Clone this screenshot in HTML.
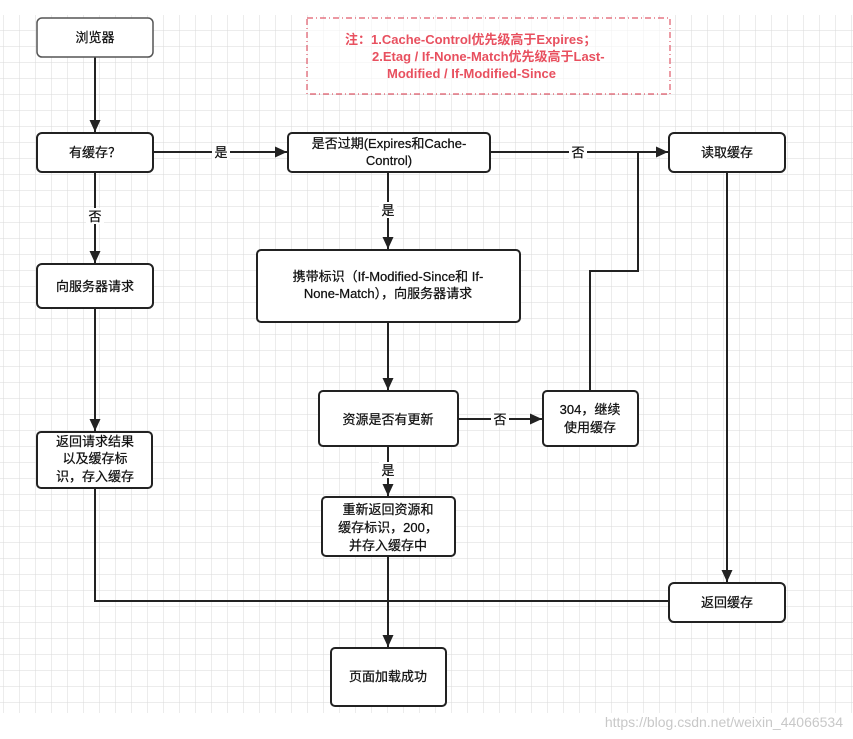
<!DOCTYPE html>
<html><head><meta charset="utf-8"><style>
html,body{margin:0;padding:0;background:#fff;}
svg{display:block;}
text{font-family:"Liberation Sans","Noto Sans CJK SC",sans-serif;font-size:13px;fill:#111;text-anchor:middle;stroke:#111;stroke-width:0.25;}
</style></head><body>
<svg width="853" height="739" viewBox="0 0 853 739" xmlns="http://www.w3.org/2000/svg">
<defs>
<pattern id="g" width="16" height="16" patternUnits="userSpaceOnUse" x="4" y="15">
<path d="M16 0V16M0 16H16" stroke="#dadada" stroke-width="1" fill="none"/>
</pattern>
<marker id="a" markerWidth="12" markerHeight="12" refX="12" refY="6" orient="auto" markerUnits="userSpaceOnUse">
<path d="M0 0.5L12 6L0 11.5Z" fill="#222"/>
</marker>
</defs>
<rect x="0" y="15" width="853" height="698" fill="url(#g)"/>
<g stroke="#222" stroke-width="2" fill="none">
<line x1="95" y1="57" x2="95" y2="132" marker-end="url(#a)"/>
<line x1="153" y1="152" x2="287" y2="152" marker-end="url(#a)"/>
<line x1="490" y1="152" x2="668" y2="152" marker-end="url(#a)"/>
<line x1="95" y1="172" x2="95" y2="263" marker-end="url(#a)"/>
<line x1="388" y1="172" x2="388" y2="249" marker-end="url(#a)"/>
<line x1="388" y1="322" x2="388" y2="390" marker-end="url(#a)"/>
<line x1="458" y1="419" x2="542" y2="419" marker-end="url(#a)"/>
<polyline points="590,391 590,271 638,271 638,152"/>
<line x1="388" y1="446" x2="388" y2="496" marker-end="url(#a)"/>
<line x1="388" y1="556" x2="388" y2="647" marker-end="url(#a)"/>
<line x1="95" y1="308" x2="95" y2="431" marker-end="url(#a)"/>
<polyline points="95,488 95,601 669,601"/>
<line x1="727" y1="172" x2="727" y2="582" marker-end="url(#a)"/>
</g>
<g fill="#fff" stroke="#222" stroke-width="2">
<rect x="37" y="18" width="116" height="39" rx="5" stroke="#555" stroke-width="1.5"/>
<rect x="37" y="133" width="116" height="39" rx="5"/>
<rect x="37" y="264" width="116" height="44" rx="5"/>
<rect x="37" y="432" width="115" height="56" rx="4"/>
<rect x="288" y="133" width="202" height="39" rx="4"/>
<rect x="257" y="250" width="263" height="72" rx="4"/>
<rect x="319" y="391" width="139" height="55" rx="4"/>
<rect x="543" y="391" width="95" height="55" rx="4"/>
<rect x="322" y="497" width="133" height="59" rx="4"/>
<rect x="669" y="133" width="116" height="39" rx="5"/>
<rect x="669" y="583" width="116" height="39" rx="5"/>
<rect x="331" y="648" width="115" height="58" rx="4"/>
</g>
<rect x="307" y="18" width="363" height="76" fill="#fff" fill-opacity="0.6" stroke="#e05a6a" stroke-width="1.2" stroke-dasharray="6,3,1,3"/>
<g fill="#fff"><rect x="212" y="144" width="18" height="16"/><rect x="569" y="144" width="18" height="16"/><rect x="379" y="202" width="18" height="16"/><rect x="491" y="411" width="18" height="16"/><rect x="379" y="462" width="18" height="16"/><rect x="86" y="208" width="18" height="16"/></g>
<text x="95" y="42">浏览器</text>
<text x="95" y="157">有缓存？</text>
<text x="95" y="291">向服务器请求</text>
<text x="95" y="446">返回请求结果</text>
<text x="95" y="463">以及缓存标</text>
<text x="95" y="481">识，存入缓存</text>
<text x="389" y="148">是否过期(Expires和Cache-</text>
<text x="389" y="165">Control)</text>
<text x="388" y="281">携带标识（If-Modified-Since和 If-</text>
<text x="388" y="298">None-Match），向服务器请求</text>
<text x="388" y="424">资源是否有更新</text>
<text x="590" y="414">304，继续</text>
<text x="590" y="432">使用缓存</text>
<text x="388" y="514">重新返回资源和</text>
<text x="388" y="532">缓存标识，200，</text>
<text x="388" y="550">并存入缓存中</text>
<text x="727" y="157">读取缓存</text>
<text x="727" y="607">返回缓存</text>
<text x="388" y="681">页面加载成功</text>
<text x="221" y="157">是</text>
<text x="578" y="157">否</text>
<text x="388" y="215">是</text>
<text x="500" y="424">否</text>
<text x="388" y="475">是</text>
<text x="95" y="221">否</text>
<text x="345" y="44" style="fill:#e8505f;stroke:none;font-weight:bold;text-anchor:start">注：1.Cache-Control优先级高于Expires；</text>
<text x="372" y="61" style="fill:#e8505f;stroke:none;font-weight:bold;text-anchor:start">2.Etag / If-None-Match优先级高于Last-</text>
<text x="387" y="78" style="fill:#e8505f;stroke:none;font-weight:bold;text-anchor:start">Modified / If-Modified-Since</text>
<text x="843" y="727" style="fill:#c8c8c8;stroke:none;font-size:14px;text-anchor:end">https://blog.csdn.net/weixin_44066534</text>
</svg>
</body></html>
